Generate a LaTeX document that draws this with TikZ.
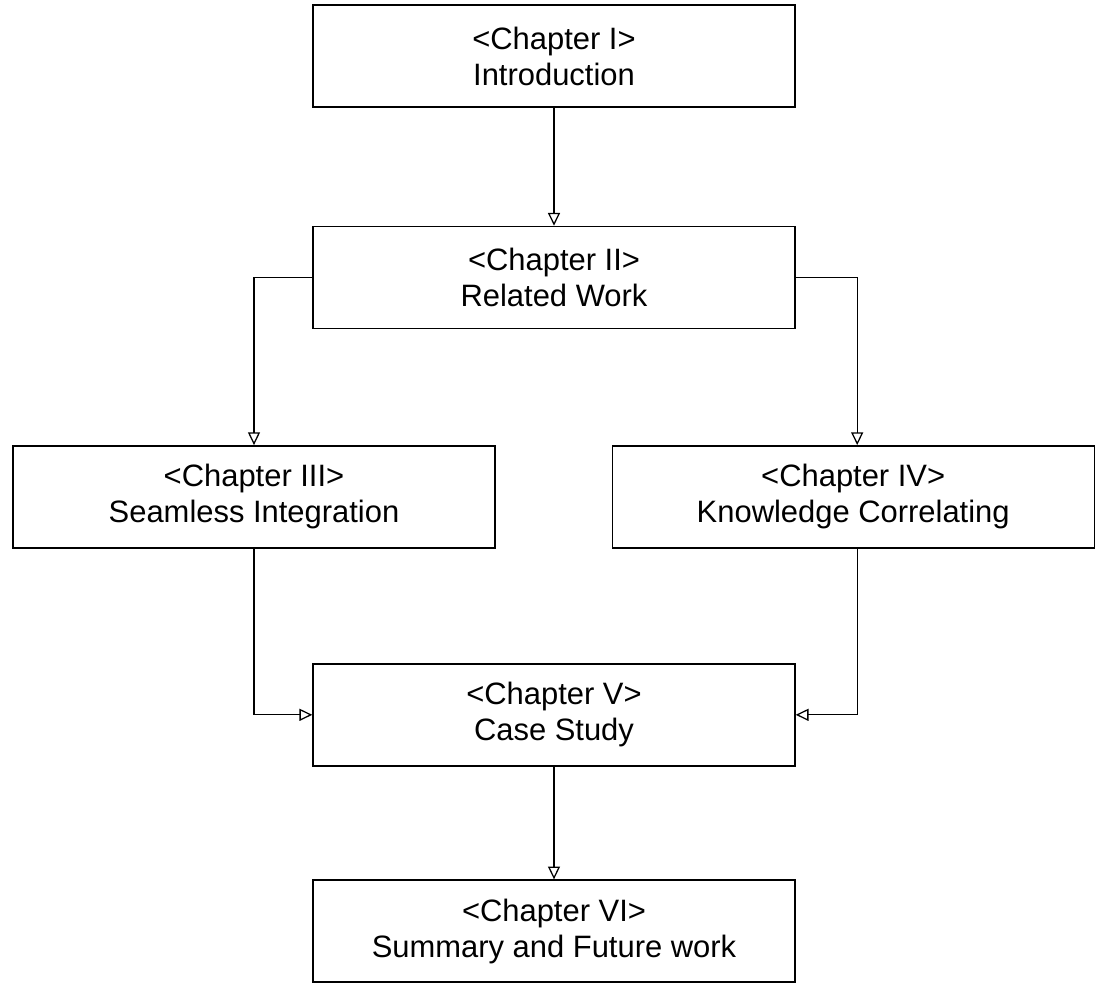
\documentclass[tikz,border=0pt]{standalone}
\usepackage{fontspec}
\setmainfont{Liberation Sans}
\usepackage{tikz}
\usetikzlibrary{positioning, arrows.meta}

\begin{document}
\begin{tikzpicture}[
        every node/.style={font=\fontsize{22pt}{25.6pt}\selectfont},
        chap/.style={rectangle, draw=black, line width=1pt, fill=white,
                     minimum width=12.05cm, minimum height=2.55cm, align=center,
                     inner sep=0pt},
        flow/.style={draw=black, line width=0.9pt,
                     -{Triangle[open, length=3.2mm, width=3mm]}},
      ]
        \node[chap] (ch1) {<Chapter I>\\Introduction};
        \node[chap, below=2.95cm of ch1] (ch2) {<Chapter II>\\Related Work};

        \node[chap, below=2.9cm of ch2, xshift=-7.5cm] (ch3) {<Chapter III>\\Seamless Integration};
        \node[chap, below=2.9cm of ch2, xshift=7.48cm] (ch4) {<Chapter IV>\\Knowledge Correlating};

        \node[chap, below=2.9cm of ch2, yshift=-5.45cm] (ch5) {<Chapter V>\\Case Study};
        \node[chap, below=2.82cm of ch5] (ch6) {<Chapter VI>\\Summary and Future work};

        % bounding box to match the page
        \useasboundingbox (ch1.center) ++(-13.85,1.4) rectangle ++(27.375,-24.5);

        \draw[flow] (ch1) -- (ch2);
        \draw[flow] (ch2.west) -| (ch3.north);
        \draw[flow] (ch2.east) -| ([xshift=1mm]ch4.north);
        \draw[flow] (ch3.south) |- (ch5.west);
        \draw[flow] ([xshift=1mm]ch4.south) |- (ch5.east);
        \draw[flow] (ch5) -- (ch6);
      \end{tikzpicture}
\end{document}
